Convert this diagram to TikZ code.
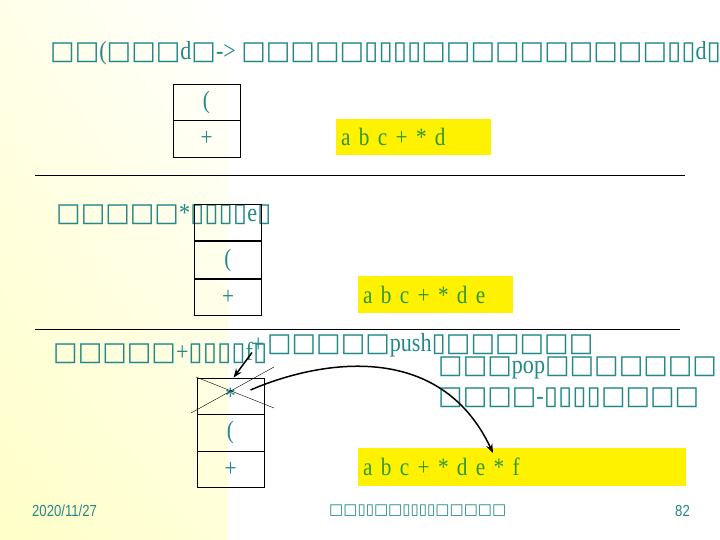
\documentclass[tikz,border=0pt]{standalone}
\usepackage{fontspec}
\setmainfont[FakeStretch=0.85]{Liberation Serif}
\newfontfamily\tofu{DejaVu Sans}
\newfontfamily\footfont[FakeStretch=0.82]{Liberation Sans}
\usetikzlibrary{arrows.meta, positioning, shadings}
\definecolor{slideteal}{RGB}{34,136,136}
\definecolor{outgreen}{RGB}{51,150,51}
\definecolor{paleyellow}{RGB}{255,255,200}
\newcommand{\bx}[1]{{\tofu #1}}

\begin{document}
\begin{tikzpicture}[x=1pt, y=-1pt,
    cell/.style={draw, minimum width=67, minimum height=36.3, inner sep=0, text=slideteal, font=\fontsize{25}{25}\selectfont},
    res/.style={fill=yellow, anchor=north west, inner xsep=5, inner ysep=0, text=outgreen, align=left, font=\fontsize{25}{25}\selectfont},
    head/.style={anchor=west, inner sep=0, text=slideteal, font=\fontsize{26}{26}\selectfont},
    foot/.style={inner sep=0, text=slideteal, font=\footfont\fontsize{16}{16}\selectfont}]
    \useasboundingbox[fill=white] (0,0) rectangle (720,540);
    \clip (0,0) rectangle (720,540);
    \shade[upper left=paleyellow!40, lower left=paleyellow, upper right=white, lower right=paleyellow!70] (0,0) rectangle (228,540);

    % step 1
    \node[head] (title1) at (50,53) {\bx{□□}(\bx{□□□}d\bx{□}-> \bx{□□□□□▯▯▯▯□□□□□□□□□□▯▯}d\bx{▯}};
    \node[cell] (s1top) at (206.5,102) {(};
    \node[cell, below=0pt of s1top] (s1bot) {+};
    \node[res, minimum width=155, minimum height=36, text width=145] (res1) at (336,119) {a b c + * d};
    \draw (35,175) -- (685,175);

    % step 2
    \node[head] (title2) at (56,215) {\bx{□□□□□}*\bx{▯▯▯▯}e\bx{▯}};
    \node[cell, line width=1.2pt] (s2top) at (228,222.5) {};
    \node[cell, line width=1.2pt, below=0pt of s2top] (s2mid) {(};
    \node[cell, line width=1.2pt, below=0pt of s2mid] (s2bot) {+};
    \node[res, minimum width=155, minimum height=37, text width=145] (res2) at (358,276) {a b c + * d e};
    \draw (35,329) -- (680,329);

    % step 3
    \node[head] (title3) at (53,353) {\bx{□□□□□}+\bx{▯▯▯▯}f\bx{▯}};
    \node[head] (plus) at (252,345) {+};
    \node[head, right=2pt of plus] (pushline) {\bx{□□□□□}push\bx{▯□□□□□□}};
    \node[head] (popline) at (438,368) {\bx{□□□}pop\bx{□□□□□□□}};
    \node[head] (lastline) at (438,398) {\bx{□□□□}-\bx{▯▯▯▯□□□□}};
    \node[cell] (s3top) at (230.5,396) {*};
    \node[cell, below=0pt of s3top] (s3mid) {(};
    \node[cell, below=0pt of s3mid] (s3bot) {+};
    \node[res, minimum width=328, minimum height=38, text width=318] (res3) at (358,448) {a b c + * d e * f};
    \draw (191,413) -- (274,367);
    \draw (196,377) -- (274,408);
    \coordinate (tgt) at (493,453);
    \draw[-{Stealth[length=9pt]}, line width=1.5pt] (plus.south west) -- ([xshift=3pt]s3top.north);
    \draw[-{Stealth[length=9pt]}, line width=1.5pt] ([xshift=20pt,yshift=6pt]s3top.center) .. controls (320,360) and (440,340) .. (tgt);

    % footer
    \node[foot, anchor=west] (date) at (32,511) {2020/11/27};
    \node[foot, anchor=west, font=\fontsize{15}{15}\selectfont] (course) at (329,511) {\bx{□□▯▯□□▯▯▯▯□□□□□}};
    \node[foot, anchor=east] (page) at (690,511) {82};
\end{tikzpicture}
\end{document}
